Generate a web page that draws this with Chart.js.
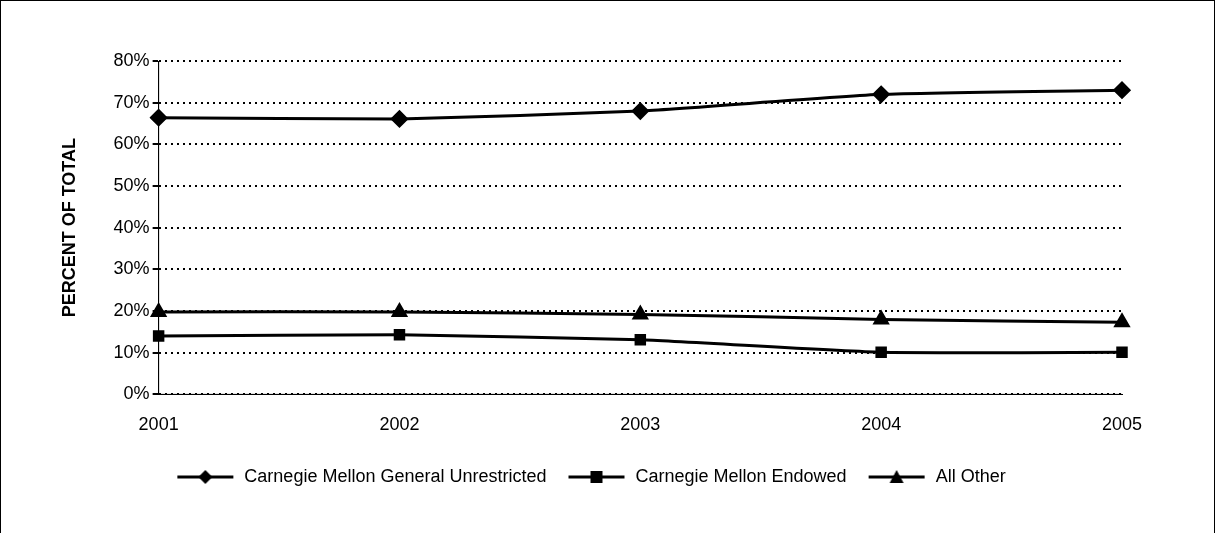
<!DOCTYPE html>
<html><head>
<script src="https://cdn.jsdelivr.net/npm/chart.js@4"></script>
<style>
body{margin:0;background:#fff;}
#box{position:absolute;left:0;top:0;width:1215px;height:560px;border:1px solid #000;box-sizing:border-box;}
#wrap{position:absolute;left:0;top:0;width:1218px;height:533px;}
</style></head><body>
<div id="box"></div>
<div id="wrap"><canvas id="myChart"></canvas></div>
<script>
var years = ["2001", "2002", "2003", "2004", "2005"];
var generalUnrestricted = [66.4, 66.1, 68.0, 72.0, 73.0];
var endowed = [14.0, 14.3, 13.1, 10.1, 10.1];
var allOther = [19.8, 19.8, 19.2, 18.0, 17.3];

function legendIcon(style) {
  var c = document.createElement("canvas");
  c.width = 60; c.height = 16;
  var g = c.getContext("2d");
  g.strokeStyle = "#000"; g.lineWidth = 3;
  g.beginPath(); g.moveTo(2, 8); g.lineTo(58, 8); g.stroke();
  g.fillStyle = "#000";
  g.beginPath();
  if (style === "rectRot") { g.moveTo(30, 1); g.lineTo(37, 8); g.lineTo(30, 15); g.lineTo(23, 8); }
  else if (style === "rect") { g.rect(24, 2, 12, 12); }
  else { g.moveTo(30, 1); g.lineTo(37, 14); g.lineTo(23, 14); }
  g.closePath(); g.fill();
  return c;
}

var ctx = document.getElementById("myChart").getContext("2d");
function ds(label, data, style, r) {
  return {label: label, data: data, borderColor: "#000", backgroundColor: "#000",
    borderWidth: 3, pointStyle: style, pointRadius: r, pointHoverRadius: r, tension: 0.15};
}
new Chart(ctx, {
  type: "line",
  data: {
    labels: years,
    datasets: [
      ds("Carnegie Mellon General Unrestricted", generalUnrestricted, "rectRot", 7),
      ds("Carnegie Mellon Endowed", endowed, "rect", 6),
      ds("All Other", allOther, "triangle", 7)
    ]
  },
  options: {
    responsive: true, maintainAspectRatio: false, animation: false,
    layout: {padding: {left: 59, right: 96, top: 61, bottom: 37}},
    plugins: {
      tooltip: {enabled: false},
      legend: {
        position: "bottom",
        labels: {
          color: "#000", font: {family: "Liberation Sans, Arial", size: 18},
          usePointStyle: true, pointStyleWidth: 60, padding: 20, boxHeight: 16,
          generateLabels: function(chart) {
            return chart.data.datasets.map(function(d, i) {
              return {text: d.label, pointStyle: legendIcon(d.pointStyle), fontColor: "#000",
                strokeStyle: "#000", lineWidth: 0, datasetIndex: i};
            });
          }
        }
      }
    },
    scales: {
      x: {
        offset: false,
        grid: {display: false, drawTicks: true, tickLength: 8, color: "#000"},
        border: {color: "#000", width: 1},
        ticks: {color: "#000", padding: 12, font: {family: "Liberation Sans, Arial", size: 18}, maxRotation: 0}
      },
      y: {
        min: 0, max: 80,
        title: {display: true, text: "PERCENT OF TOTAL", color: "#000", padding: {top: 0, bottom: 30},
          font: {family: "Liberation Sans, Arial", size: 18, weight: "bold"}},
        grid: {color: "#000", lineWidth: 2, tickLength: 6},
        border: {color: "#000", width: 1, dash: [2, 4]},
        ticks: {stepSize: 10, color: "#000", font: {family: "Liberation Sans, Arial", size: 18},
          callback: function(v) { return v + "%"; }}
      }
    }
  },
  plugins: [{
    id: "solidAxes",
    beforeDatasetsDraw: function(chart) {
      var a = chart.chartArea, g = chart.ctx;
      g.save(); g.strokeStyle = "#000"; g.lineWidth = 1; g.setLineDash([]);
      g.beginPath(); g.moveTo(a.left, a.top); g.lineTo(a.left, a.bottom); g.lineTo(a.right, a.bottom); g.stroke();
      g.restore();
    }
  }]
});
</script>
</body></html>
